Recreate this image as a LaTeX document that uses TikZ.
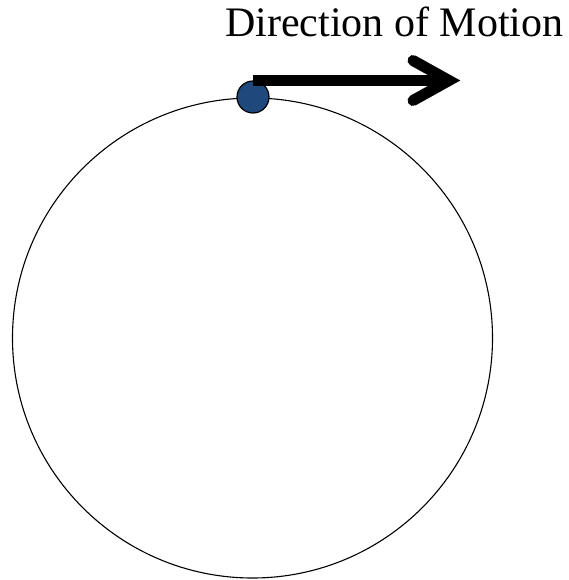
\documentclass[tikz,border=0pt]{standalone}
\usepackage{fontspec}
\setmainfont{Liberation Serif}
\definecolor{balldark}{RGB}{31,73,125}
\begin{document}
\begin{tikzpicture}[x=1pt,y=-1pt,
  orbit/.style={circle,draw=black,line width=1.1pt,minimum size=480pt,inner sep=0pt},
  ball/.style={circle,draw=black,line width=1.2pt,fill=balldark,minimum size=32pt,inner sep=0pt},
  motion/.style={line width=11pt},
  head/.style={line width=11pt,line cap=round,line join=miter}]
\useasboundingbox (0,0) rectangle (569,580);
\node[orbit] (orbit) at (252.5,338) {};
\node[ball] (ball) at (253,97) {};
\node[anchor=base west,font=\fontsize{42}{46}\selectfont,inner sep=0pt] (label) at (225,37) {Direction of Motion};
\coordinate (tip) at (449,80.5);
\coordinate (up) at (413,60.5);
\coordinate (down) at (413,100.5);
\draw[motion] (253,80.5) -- (tip);
\draw[head] (up) -- (tip) -- (down);
\end{tikzpicture}
\end{document}
